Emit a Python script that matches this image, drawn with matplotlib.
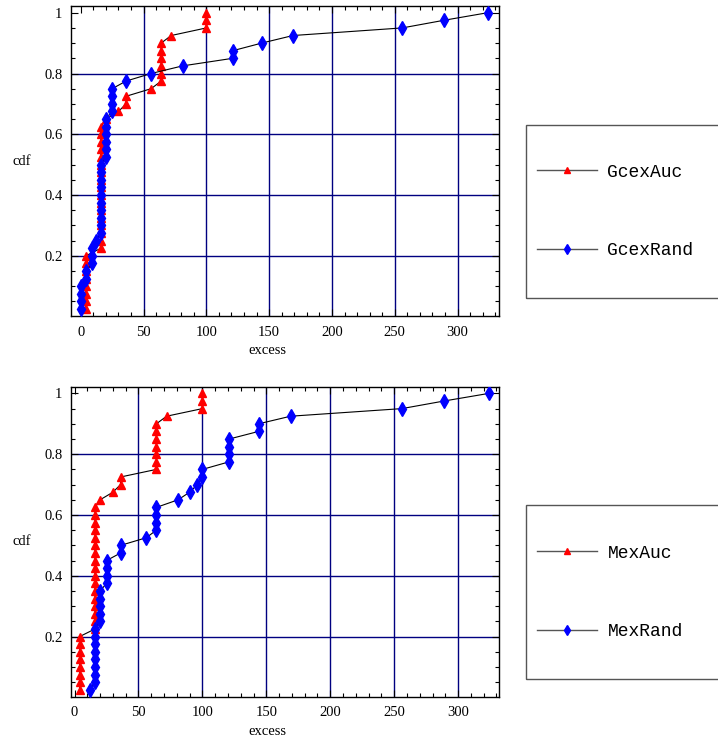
import numpy as np
import matplotlib
matplotlib.use("Agg")
import matplotlib.pyplot as plt
from matplotlib.lines import Line2D
from matplotlib.patches import Rectangle
from matplotlib.ticker import MultipleLocator

plt.rcParams["font.family"] = ["Liberation Serif", "DejaVu Serif"]

# excess values, sorted (40 samples per series)
gcex_auc = [4, 4, 4, 4, 4, 4, 4, 4,
            16, 16, 16, 16, 16, 16, 16, 16, 16, 16, 16, 16, 16, 16, 16, 16, 16,
            20, 30, 36, 36, 56,
            64, 64, 64, 64, 64, 64,
            72, 100, 100, 100]
gcex_rand = [0, 0, 0, 0, 4, 4, 9, 9, 9, 12,
             16, 16, 16, 16, 16, 16, 16, 16, 16, 16,
             20, 20, 20, 20, 20, 20, 25, 25, 25, 25,
             36, 56, 81, 121, 121, 144, 169, 256, 289, 324]
mex_auc = [4, 4, 4, 4, 4, 4, 4, 4,
           16, 16, 16, 16, 16, 16, 16, 16, 16, 16, 16, 16, 16, 16, 16, 16, 16,
           20, 30, 36, 36,
           64, 64, 64, 64, 64, 64, 64,
           72, 100, 100, 100]
mex_rand = [12, 16, 16, 16, 16, 16, 16, 16, 16,
            20, 20, 20, 20, 20, 25, 25, 25, 25,
            36, 36, 56, 64, 64, 64, 64,
            81, 90, 96, 100, 100, 121, 121, 121, 121,
            144, 144, 169, 256, 289, 324]

x_ticks = [0, 50, 100, 150, 200, 250, 300]
y_ticks = [0.2, 0.4, 0.6, 0.8, 1.0]
y_tick_labels = ["0.2", "0.4", "0.6", "0.8", "1"]
grid_x = [50, 100, 150, 200, 250, 300]
grid_y = [0.2, 0.4, 0.6, 0.8]

panels = [
    ("GcexAuc", gcex_auc, "GcexRand", gcex_rand, (-8, 333)),
    ("MexAuc", mex_auc, "MexRand", mex_rand, (-3, 332)),
]


def ecdf(values):
    xs = np.sort(np.asarray(values, dtype=float))
    return xs, np.arange(1, len(xs) + 1) / len(xs)


fig = plt.figure(figsize=(7.18, 7.45), dpi=100)
axes_boxes = [[0.0985, 0.5758, 0.5965, 0.4161], [0.0985, 0.0648, 0.5965, 0.4161]]
legend_frames = [(1 - 298 / 745, 173 / 745), (1 - 679 / 745, 174 / 745)]
legend_centers = [1 - 211.5 / 745, 1 - 592.5 / 745]

for (name_a, vals_a, name_b, vals_b, xlim), box, frame, cy in zip(
        panels, axes_boxes, legend_frames, legend_centers):
    ax = fig.add_axes(box)
    for gx in grid_x:
        ax.axvline(gx, color="#000080", lw=1.0, zorder=0.5)
    for gy in grid_y:
        ax.axhline(gy, color="#000080", lw=1.0, zorder=0.5)

    xa, ya = ecdf(vals_a)
    xb, yb = ecdf(vals_b)
    ax.plot(xa, ya, color="black", lw=0.8, marker="^", ms=6,
            mfc="red", mec="red", zorder=3)
    ax.plot(xb, yb, color="black", lw=0.8, marker="d", ms=7,
            mfc="blue", mec="blue", zorder=3)

    ax.set_xlim(*xlim)
    ax.set_ylim(0.002, 1.022)
    ax.set_xticks(x_ticks)
    ax.set_yticks(y_ticks)
    ax.set_yticklabels(y_tick_labels)
    ax.xaxis.set_minor_locator(MultipleLocator(10))
    ax.yaxis.set_minor_locator(MultipleLocator(0.05))
    ax.tick_params(which="both", direction="in", top=True, right=True,
                   labelsize=10.5, width=0.8)
    ax.tick_params(which="major", length=5)
    ax.tick_params(which="minor", length=3)
    ax.tick_params(axis="x", pad=7)
    ax.tick_params(axis="y", pad=6)
    for spine in ax.spines.values():
        spine.set_linewidth(1.0)

    ax.set_xlabel("excess", fontsize=10.5)
    ax.xaxis.set_label_coords(0.458, -0.09)
    ax.set_ylabel("cdf", fontsize=10.5, rotation=0, va="center", ha="center")
    ax.yaxis.set_label_coords(-0.114, 0.5)

    fig.add_artist(Rectangle((526 / 718, frame[0]), 0.3, frame[1],
                             transform=fig.transFigure, fill=False,
                             edgecolor="#555555", lw=1.0))
    handles = [
        Line2D([], [], color="#555555", lw=1.0, marker="^", ms=5,
               mfc="red", mec="red"),
        Line2D([], [], color="#555555", lw=1.0, marker="d", ms=5.5,
               mfc="blue", mec="blue"),
    ]
    fig.legend(handles, [name_a, name_b], loc="center left",
               bbox_to_anchor=(537 / 718, cy), bbox_transform=fig.transFigure,
               frameon=False, borderpad=0, borderaxespad=0,
               handlelength=3.3, handletextpad=0.6, labelspacing=3.4,
               prop={"family": "Liberation Mono", "size": 13})

fig.savefig("out.png", dpi=100)
